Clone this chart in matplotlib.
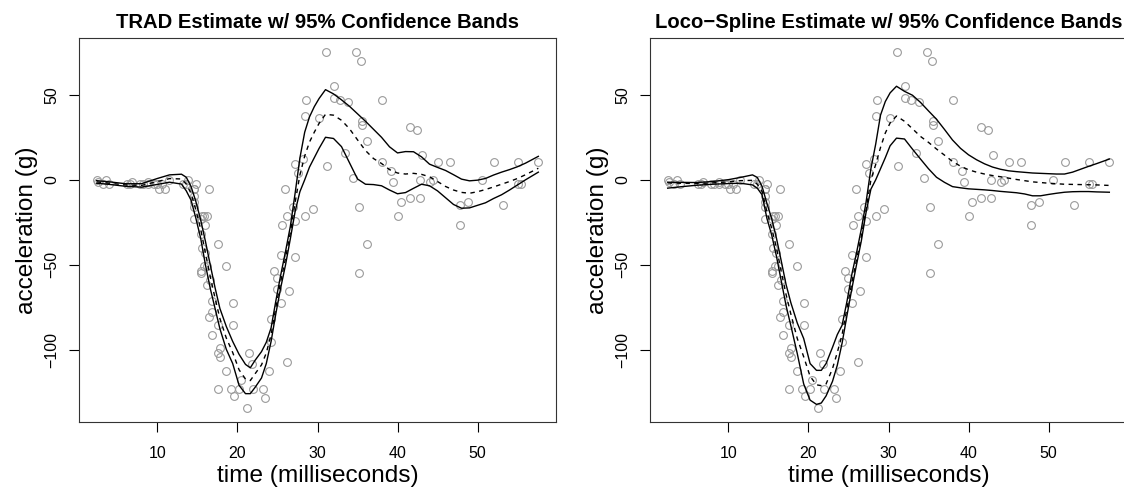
import numpy as np
import matplotlib.pyplot as plt

plt.rcParams['font.family'] = ['Liberation Sans', 'DejaVu Sans']

# mcycle data
times = [2.4, 2.6, 3.2, 3.6, 4.0, 6.2, 6.6, 6.8, 7.8, 8.2, 8.8, 8.8, 9.6, 10.0, 10.2,
         10.6, 11.0, 11.4, 13.2, 13.6, 13.8, 14.6, 14.6, 14.6, 14.6, 14.6, 14.6, 14.8,
         15.4, 15.4, 15.4, 15.4, 15.6, 15.6, 15.8, 15.8, 16.0, 16.0, 16.2, 16.2, 16.2,
         16.4, 16.4, 16.6, 16.8, 16.8, 16.8, 17.6, 17.6, 17.6, 17.6, 17.8, 17.8, 18.6,
         18.6, 19.2, 19.4, 19.4, 19.6, 20.2, 20.4, 21.2, 21.4, 21.8, 22.0, 23.2, 23.4,
         24.0, 24.2, 24.2, 24.6, 25.0, 25.0, 25.4, 25.4, 25.6, 26.0, 26.2, 26.2, 26.4,
         27.0, 27.2, 27.2, 27.2, 27.6, 28.2, 28.4, 28.4, 28.6, 29.4, 30.2, 31.0, 31.2,
         32.0, 32.0, 32.8, 33.4, 33.8, 34.4, 34.8, 35.2, 35.2, 35.4, 35.6, 35.6, 36.2,
         36.2, 38.0, 38.0, 39.2, 39.4, 40.0, 40.4, 41.6, 41.6, 42.4, 42.8, 42.8, 43.0,
         44.0, 44.4, 45.0, 46.6, 47.8, 47.8, 48.8, 50.6, 52.0, 53.2, 55.0, 55.0, 55.4,
         57.6]
accel = [0.0, -1.3, -2.7, 0.0, -2.7, -2.7, -2.7, -1.3, -2.7, -2.7, -1.3, -2.7, -2.7,
         -2.7, -5.4, -2.7, -5.4, 0.0, -2.7, -2.7, 0.0, -13.3, -5.4, -5.4, -9.3, -16.0,
         -22.8, -2.7, -22.8, -32.1, -53.5, -54.9, -40.2, -21.5, -21.5, -50.8, -42.9,
         -26.8, -21.5, -50.8, -61.7, -5.4, -80.4, -59.0, -71.0, -91.1, -77.7, -37.5,
         -85.6, -123.1, -101.9, -99.1, -104.4, -112.5, -50.8, -123.1, -85.6, -72.3,
         -127.2, -123.1, -117.9, -134.0, -101.9, -108.4, -123.1, -123.1, -128.5,
         -112.5, -95.1, -81.8, -53.5, -64.4, -57.6, -72.3, -44.3, -26.8, -5.4, -107.1,
         -21.5, -65.6, -16.0, -45.6, -24.2, 9.5, 4.0, 12.0, -21.5, 37.5, 46.9, -17.4,
         36.2, 75.0, 8.1, 54.9, 48.2, 46.9, 16.0, 45.6, 1.3, 75.0, -16.0, -54.9, 69.6,
         34.8, 32.1, -37.5, 22.8, 46.9, 10.7, 5.4, -1.3, -21.5, -13.3, 30.8, -10.7,
         29.4, 0.0, -10.7, 14.7, -1.3, 0.0, 10.7, 10.7, -26.8, -14.7, -13.3, 0.0, 10.7,
         -14.7, -2.7, 10.7, -2.7, 10.7]

# evaluation grid for the fitted curves
grid = [2.4, 4, 6, 8, 10, 11.5, 13, 13.6, 14.2, 14.8, 15.4, 16.0, 16.6, 17.2, 17.8,
        18.6, 19.4, 20.2, 21.0, 21.6, 22.2, 23.0, 23.6, 24.2, 24.8, 25.4, 26.0, 26.6,
        27.2, 27.8, 28.4, 29.0, 29.6, 30.2, 31.0, 32, 33, 34, 35, 36, 37, 38, 39, 40,
        41, 42, 43, 44, 45, 46, 47, 48, 49, 50, 51, 52, 53, 54, 55, 56, 57.6]

trad_fit = [-1.2, -2.0, -3.0, -3.3, -1.0, 0.7, 0.5, -2.5, -8, -17.7, -29, -43.2, -57,
            -69.6, -81.5, -93, -101.5, -111.7, -117.1, -118, -114, -108.8, -101.8, -91,
            -74.8, -59.7, -46.2, -31.2, -13.4, 2.9, 14, 22.2, 28, 33.2, 38.5, 38, 35,
            30, 23.5, 17.2, 12.5, 9.6, 6, 4, 3.4, 3.8, 3.2, 1.8, -1, -3.9, -6, -7.4,
            -7.9, -7, -5.7, -4.2, -2.6, -1, 0.8, 3, 6.8]
trad_up = [-0.5, -1.2, -2.3, -2.3, 0.8, 2.9, 3.3, 1.5, -4, -12.8, -23.6, -36.3, -50.1,
           -63.5, -75.6, -86.2, -95, -102.6, -108.5, -110.5, -106.1, -101, -95.5, -87,
           -71, -56, -42.2, -27.5, -8, 12.8, 28, 37, 43, 47.8, 53, 50.5, 47, 43.2, 38.8,
           34.4, 29.7, 25, 19.4, 15.8, 16.6, 16.5, 13.5, 9.2, 7.3, 5.5, 3, 0.4, -0.6,
           -0.2, 0.8, 2.8, 4.5, 6, 7.7, 9.8, 13.8]
trad_lo = [-2.0, -2.7, -3.8, -4.3, -2.7, -1.4, -2.5, -6.5, -12, -22.6, -34.4, -50.1,
           -63.9, -75.7, -87.5, -99.6, -108, -120.8, -125.7, -125.7, -122, -116.5, -108,
           -95, -78.5, -63.5, -50.1, -34.8, -18.7, -7, 0, 7.5, 13, 18.5, 25, 24.3, 19.5,
           10, 0.5, -2.6, -2.8, -3.5, -6, -8.2, -7.5, -5, -2.6, -3.5, -6.5, -10.5, -14.5,
           -16.7, -16.5, -15, -13.5, -11, -8.8, -6, -3, 0, 4.5]

loco_fit = [-1.8, -2.0, -2.2, -1.8, -1.2, -0.5, -0.3, -2.6, -6.9, -18.7, -28.5, -40,
            -54, -67.5, -79, -93.3, -104, -115.5, -120.5, -121, -120, -111, -101.5, -91,
            -75.6, -61, -47, -33.5, -17.5, 0, 9, 19, 27.5, 33.4, 37.5, 34.4, 30, 25.5,
            22, 18.1, 14.5, 10.8, 8, 5.9, 4.5, 3.4, 2.5, 1.8, 1.0, 0.2, -0.5, -1.2, -1.6,
            -2.0, -2.3, -2.6, -2.7, -2.8, -2.9, -3.0, -3.3]
loco_up = [-1.4, -1.5, -1.6, -1.0, 0.1, 1.4, 2.9, 1.4, -3.9, -13.8, -22.8, -34.4, -47.8,
           -61.6, -72.3, -84.2, -93.3, -108, -112, -112, -108, -98.5, -91, -85.5, -71.7,
           -56, -43, -29, -13, 6.5, 21, 38, 46, 51.1, 55, 52, 49.7, 45.5, 40.5, 35.6,
           29.6, 23.4, 18.5, 14.7, 11.8, 9.4, 7.5, 6.2, 5.3, 4.8, 4.4, 4.0, 3.8, 3.6,
           3.4, 3.4, 4.5, 6.2, 7.9, 9.5, 12.2]
loco_lo = [-4.9, -4.1, -3.2, -2.6, -2.2, -2.0, -3.0, -4.9, -8.8, -22.6, -32.4, -45,
           -59.5, -74, -85.8, -102.2, -120, -129.5, -132, -131.2, -127, -118.5, -109,
           -96, -80, -64.5, -50, -36, -19, -5.5, 0, 6.5, 13, 20, 24.5, 24, 18, 12.2,
           6.5, 1.5, -1.5, -4, -4.7, -5.3, -5.6, -5.9, -6.3, -6.8, -7.2, -7.6, -8.3,
           -9.4, -9.4, -8.6, -7.9, -7.3, -7.0, -6.9, -6.9, -7.1, -7.3]

titles = ['TRAD Estimate w/ 95% Confidence Bands',
          'Loco\u2212Spline Estimate w/ 95% Confidence Bands']

W, H = 1124, 491
fig = plt.figure(figsize=(W / 100, H / 100), dpi=100)

panels = [(79, trad_fit, trad_up, trad_lo), (650, loco_fit, loco_up, loco_lo)]

for i, (left, fit, up, lo) in enumerate(panels):
    ax = fig.add_axes([left / W, (H - 422) / H, 477 / W, 384 / H])
    ax.plot(times, accel, 'o', mfc='none', mec='#9a9a9a', ms=5.6, mew=0.8)
    ax.plot(grid, up, color='black', lw=1.0)
    ax.plot(grid, lo, color='black', lw=1.0)
    ax.plot(grid, fit, color='black', lw=1.0, dashes=(3.2, 3.2))
    ax.margins(0.04)
    ax.set_xticks([10, 20, 30, 40, 50])
    ax.set_yticks([-100, -50, 0, 50])
    ax.tick_params(axis='both', direction='out', length=7, width=0.8,
                   labelsize=11.5)
    ax.tick_params(axis='x', pad=10)
    ax.tick_params(axis='y', pad=7, labelrotation=90)
    for lab in ax.get_yticklabels():
        lab.set_va('center')
    for s in ax.spines.values():
        s.set_linewidth(0.8)
        s.set_color('#333333')
    ax.set_xlabel('time (milliseconds)', fontsize=17.6, labelpad=3)
    ax.set_ylabel('acceleration (g)', fontsize=17.6, labelpad=5)
    ax.set_title(titles[i], fontsize=14.6, fontweight='bold', pad=7)

fig.savefig('out.png', dpi=100)
